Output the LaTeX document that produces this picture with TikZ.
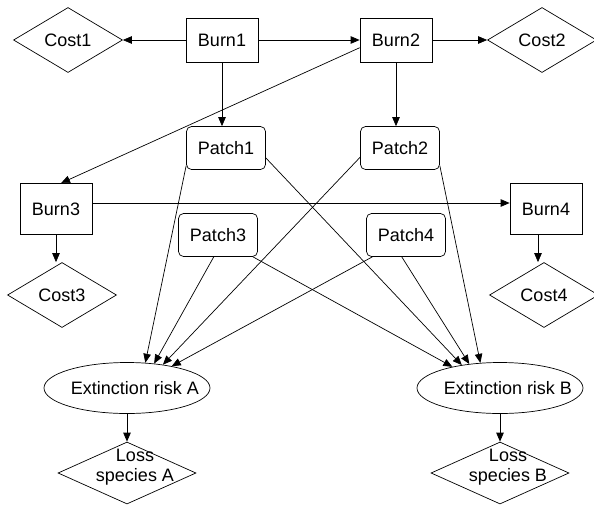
\documentclass[tikz,border=0pt]{standalone}
\usepackage{fontspec}
\setmainfont{Liberation Sans}
\usetikzlibrary{shapes.geometric,arrows.meta,positioning}
\def\gap{174pt}
\tikzset{
  burn/.style={minimum width=72pt,minimum height=44pt,draw},
  patch/.style={minimum width=79pt,minimum height=43pt,rounded corners=5pt,draw},
  cost/.style={diamond,aspect=1.66,minimum width=109pt,minimum height=65pt,inner sep=2pt,draw},
  risk/.style={ellipse,minimum width=166pt,minimum height=51pt,draw},
  loss/.style={diamond,minimum width=138pt,minimum height=62pt,draw},
  link/.style={-{Triangle[length=9pt,width=7.5pt]}}
}

\begin{document}
\begin{tikzpicture}[x=1pt,y=-1pt,line width=.7pt,font=\fontsize{18}{20}\selectfont]
  \useasboundingbox (0,0) rectangle (594,504);
  % burns and their costs
  \node[burn] at (222,40) (burn1) {Burn1};
  \node[burn] (burn2) [right of=burn1,node distance=\gap] {Burn2};
  \node[cost] at (68,40) (cost1) {Cost1};
  \node[cost] at (542,40) (cost2) {Cost2};
  \node[burn,minimum height=51pt] at (56,209) (burn3) {Burn3};
  \node[burn,minimum height=51pt] at (546,209) (burn4) {Burn4};
  \node[cost] at (62,295) (cost3) {Cost3};
  \node[cost] at (544,295) (cost4) {Cost4};
  % patches
  \node[patch] at (226,148) (patch1) {Patch1};
  \node[patch] (patch2) [right of=patch1,node distance=\gap] {Patch2};
  \node[patch] at (218,235) (patch3) {Patch3};
  \node[patch] at (406,235) (patch4) {Patch4};
  % species
  \node[risk,label={[xshift=8pt]center:Extinction risk A}] at (127,388) (riskA) {};
  \node[risk,label={[xshift=8pt]center:Extinction risk B}] at (500,388) (riskB) {};
  \node[loss,label={[align=center,xshift=8pt,yshift=6pt]center:Loss\\species A}] at (127,473) (lossA) {};
  \node[loss,label={[align=center,xshift=8pt,yshift=6pt]center:Loss\\species B}] at (500,473) (lossB) {};

  \draw[link] (burn1) -- (cost1);
  \draw[link] (burn1) -- (burn2);
  \draw[link] (burn2) -- (cost2);
  \draw[link] (burn1.south) -- (burn1.south |- patch1.north);
  \draw[link] (burn2.south) -- (burn2.south |- patch2.north);
  \draw[link] (burn2.192) -- ([xshift=5pt]burn3.north);
  \draw[link] ([yshift=6pt]burn3.east) -- ([yshift=6pt]burn4.west);
  \draw[link] (burn3.south) -- (burn3.south |- cost3.north);
  \draw[link] ([xshift=-8pt]burn4.south) -- ([xshift=-8pt]burn4.south |- cost4.north);
  % patches to extinction risks
  \draw[link] (patch1.204) -- (riskA.54);
  \draw[link] (patch3.259) -- (riskA.42);
  \draw[link] (patch2.193) -- (riskA.33);
  \draw[link] (patch4.213) -- (riskA.26);
  \draw[link] (patch3.328) -- (riskB.156);
  \draw[link] (patch1.346) -- (riskB.149);
  \draw[link] (patch4.259) -- (riskB.142);
  \draw[link] (patch2.336) -- (riskB.128);
  \draw[link] (riskA) -- (lossA);
  \draw[link] (riskB) -- (lossB);
\end{tikzpicture}
\end{document}
